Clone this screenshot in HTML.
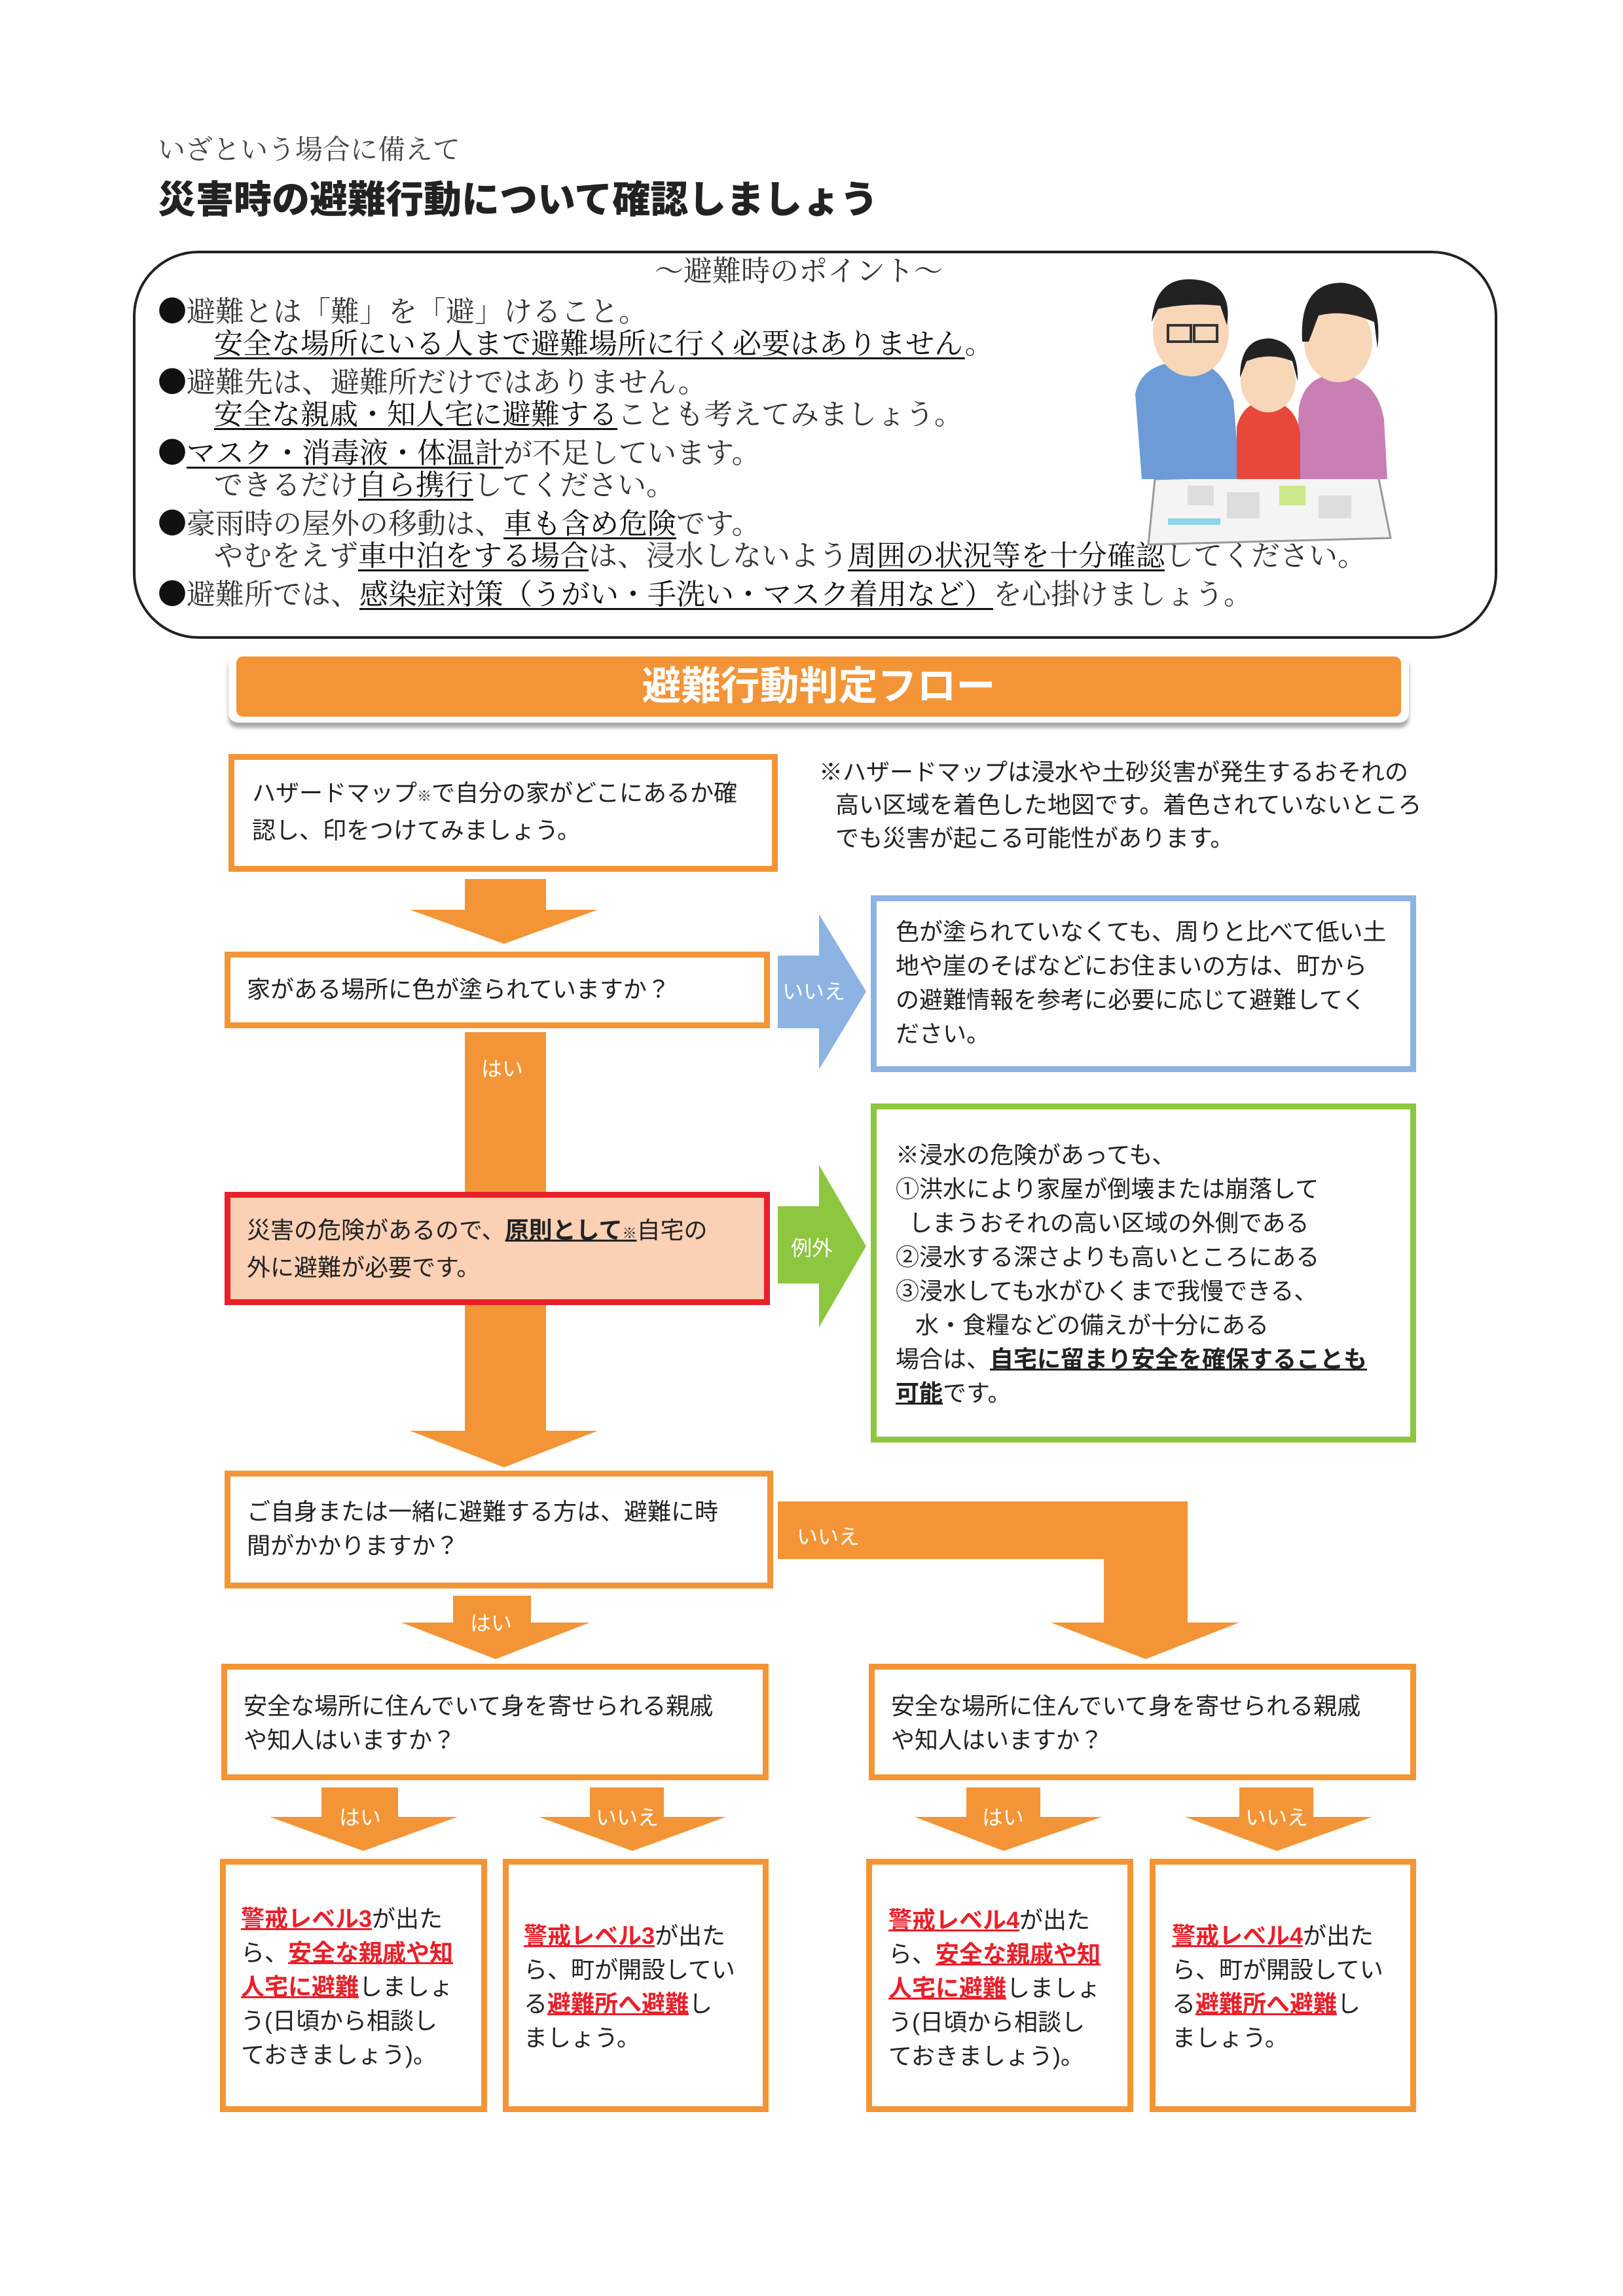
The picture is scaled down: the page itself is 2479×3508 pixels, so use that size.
<!DOCTYPE html>
<html><head><meta charset="utf-8">
<style>
*{margin:0;padding:0;box-sizing:border-box}
body{width:2479px;height:3508px;background:#fff;position:relative;overflow:hidden;font-family:"Liberation Sans","Noto Sans CJK JP",sans-serif;color:#222}
.a{position:absolute}
.serif{font-family:"Liberation Serif","Noto Serif CJK SC",serif}
.box{position:absolute;border:9px solid #f39536;background:#fff}
.t{position:absolute;font-size:36px;line-height:52px;white-space:nowrap;color:#222}
.r{color:#e8202a;font-weight:bold;text-decoration:underline}
.u{text-decoration:underline;font-weight:bold}
.lbl{position:absolute;color:#fff;font-size:32px;white-space:nowrap}
.il{position:absolute;font-size:44px;line-height:54px;white-space:nowrap;color:#333}
.il u{color:#111;text-decoration-thickness:3px;text-underline-offset:6px}
.b{font-family:"Noto Sans CJK JP",sans-serif;color:#111}
</style></head><body>

<div class="a serif" style="left:241px;top:196px;font-size:42px;color:#444">いざという場合に備えて</div>
<div class="a" style="left:241px;top:258px;font-size:58px;font-weight:900;color:#222">災害時の避難行動について確認しましょう</div>

<div class="a" style="left:203px;top:383px;width:2084px;height:593px;border:4px solid #222;border-radius:100px"></div>
<div class="il serif" style="left:1000px;top:388px">〜避難時のポイント〜</div>
<div class="il serif" style="left:241px;top:445px"><span class="b">●</span>避難とは「難」を「避」けること。</div>
<div class="il serif" style="left:327px;top:499px"><u>安全な場所にいる人まで避難場所に行く必要はありません</u>。</div>
<div class="il serif" style="left:241px;top:553px"><span class="b">●</span>避難先は、避難所だけではありません。</div>
<div class="il serif" style="left:327px;top:607px"><u>安全な親戚・知人宅に避難する</u>ことも考えてみましょう。</div>
<div class="il serif" style="left:241px;top:661px"><span class="b">●</span><u>マスク・消毒液・体温計</u>が不足しています。</div>
<div class="il serif" style="left:327px;top:715px">できるだけ<u>自ら携行</u>してください。</div>
<div class="il serif" style="left:241px;top:769px"><span class="b">●</span>豪雨時の屋外の移動は、<u>車も含め危険</u>です。</div>
<div class="il serif" style="left:327px;top:823px">やむをえず<u>車中泊をする場合</u>は、浸水しないよう<u>周囲の状況等を十分確認</u>してください。</div>
<div class="il serif" style="left:241px;top:877px"><span class="b">●</span>避難所では、<u>感染症対策（うがい・手洗い・マスク着用など）</u>を心掛けましょう。</div>

<svg class="a" style="left:1724px;top:412px" width="420" height="425" viewBox="0 0 420 425">
<polygon points="40,320 380,310 400,410 30,420" fill="#f4f4f4" stroke="#999" stroke-width="3"/>
<rect x="90" y="330" width="40" height="30" fill="#ddd"/><rect x="150" y="340" width="50" height="40" fill="#ddd"/><rect x="230" y="330" width="40" height="30" fill="#cde88a"/><rect x="290" y="345" width="50" height="35" fill="#ddd"/><rect x="60" y="380" width="80" height="10" fill="#8fd4e8"/>
<path d="M10,190 Q20,140 90,140 Q140,140 160,200 L170,320 L20,320 Z" fill="#6d9bd8"/>
<ellipse cx="95" cy="95" rx="58" ry="68" fill="#f8d6b8"/>
<path d="M35,80 Q40,10 100,15 Q160,20 150,85 L140,55 Q90,50 45,60 Z" fill="#222"/>
<rect x="60" y="85" width="35" height="25" fill="none" stroke="#333" stroke-width="4"/><rect x="100" y="85" width="35" height="25" fill="none" stroke="#333" stroke-width="4"/>
<path d="M260,210 Q270,160 320,160 Q380,165 390,230 L395,320 L255,320 Z" fill="#c97fb4"/>
<ellipse cx="320" cy="110" rx="52" ry="62" fill="#f8d6b8"/>
<path d="M265,110 Q260,20 325,20 Q390,25 380,120 L375,80 Q330,60 290,70 L275,110 Z" fill="#222"/>
<path d="M165,240 Q175,200 215,200 Q255,205 262,250 L262,320 L165,320 Z" fill="#e8483a"/>
<ellipse cx="213" cy="170" rx="42" ry="48" fill="#f8d6b8"/>
<path d="M170,165 Q170,105 215,105 Q260,110 258,170 L250,140 Q215,125 180,140 Z" fill="#222"/>
</svg>

<div class="a" style="left:349px;top:998px;width:1803px;height:106px;background:#fff;border-radius:14px;box-shadow:0 8px 6px #aaa"></div>
<div class="a" style="left:361px;top:1003px;width:1779px;height:92px;background:#f39536;border-radius:10px;color:#fff;font-size:60px;font-weight:bold;text-align:center;line-height:92px">避難行動判定フロー</div>

<svg class="a" style="left:0;top:0" width="2479" height="3508">
<g fill="#f39536">
<rect x="710" y="1343" width="124" height="48"/><polygon points="626,1390 913,1390 770,1442"/>
<rect x="710" y="1577" width="124" height="620"/><polygon points="626,2186 913,2186 770,2242"/>
<rect x="1188" y="2294" width="626" height="88"/><rect x="1686" y="2294" width="128" height="190"/><polygon points="1605,2479 1893,2479 1750,2535"/>
<rect x="692" y="2438" width="119" height="42"/><polygon points="613,2479 901,2479 757,2535"/>
<rect x="491" y="2731" width="117" height="46"/><polygon points="412,2776 699,2776 555,2828"/>
<rect x="901" y="2731" width="113" height="46"/><polygon points="823,2776 1109,2776 966,2828"/>
<rect x="1476" y="2731" width="113" height="46"/><polygon points="1397,2776 1683,2776 1533,2828"/>
<rect x="1893" y="2731" width="113" height="46"/><polygon points="1810,2776 2096,2776 1950,2828"/>
</g>
<rect x="1188" y="1460" width="64" height="111" fill="#8db3e2"/><polygon points="1251,1397 1323,1515 1251,1634" fill="#8db3e2"/>
<rect x="1188" y="1843" width="64" height="118" fill="#8dc63f"/><polygon points="1251,1780 1323,1904 1251,2028" fill="#8dc63f"/>
</svg>

<div class="lbl" style="left:1195px;top:1490px">いいえ</div>
<div class="lbl" style="left:735px;top:1608px">はい</div>
<div class="lbl" style="left:1208px;top:1882px">例外</div>
<div class="lbl" style="left:1217px;top:2323px">いいえ</div>
<div class="lbl" style="left:718px;top:2455px">はい</div>
<div class="lbl" style="left:518px;top:2752px">はい</div>
<div class="lbl" style="left:910px;top:2752px">いいえ</div>
<div class="lbl" style="left:1500px;top:2752px">はい</div>
<div class="lbl" style="left:1902px;top:2752px">いいえ</div>

<div class="box" style="left:349px;top:1152px;width:839px;height:180px"></div>
<div class="t" style="left:385px;top:1186px">ハザードマップ<span style="font-size:22px">※</span>で自分の家がどこにあるか確<br>認し、印をつけてみましょう。</div>

<div class="t" style="left:1251px;top:1154px">※ハザードマップは浸水や土砂災害が発生するおそれの</div>
<div class="t" style="left:1276px;top:1204px">高い区域を着色した地図です。着色されていないところ</div>
<div class="t" style="left:1276px;top:1255px">でも災害が起こる可能性があります。</div>

<div class="box" style="left:343px;top:1454px;width:833px;height:117px"></div>
<div class="t" style="left:377px;top:1486px">家がある場所に色が塗られていますか？</div>

<div class="box" style="left:1330px;top:1368px;width:833px;height:270px;border-color:#8db3e2"></div>
<div class="t" style="left:1368px;top:1398px">色が塗られていなくても、周りと比べて低い土<br>地や崖のそばなどにお住まいの方は、町から<br>の避難情報を参考に必要に応じて避難してく<br>ださい。</div>

<div class="box" style="left:343px;top:1821px;width:833px;height:173px;border-color:#e8202a;background:#fbd0b5"></div>
<div class="t" style="left:377px;top:1854px">災害の危険があるので、<span class="u">原則として<span style="font-size:22px">※</span></span>自宅の<br>外に避難が必要です。</div>

<div class="box" style="left:1330px;top:1686px;width:833px;height:518px;border-color:#8dc63f"></div>
<div class="t" style="left:1368px;top:1739px">※浸水の危険があっても、<br>①洪水により家屋が倒壊または崩落して<br>&nbsp;&nbsp;しまうおそれの高い区域の外側である<br>②浸水する深さよりも高いところにある<br>③浸水しても水がひくまで我慢できる、<br>&nbsp;&nbsp;&nbsp;水・食糧などの備えが十分にある<br>場合は、<span class="u">自宅に留まり安全を確保することも</span><br><span class="u">可能</span>です。</div>

<div class="box" style="left:343px;top:2247px;width:838px;height:180px"></div>
<div class="t" style="left:377px;top:2284px">ご自身または一緒に避難する方は、避難に時<br>間がかかりますか？</div>

<div class="box" style="left:338px;top:2542px;width:836px;height:178px"></div>
<div class="t" style="left:372px;top:2581px">安全な場所に住んでいて身を寄せられる親戚<br>や知人はいますか？</div>
<div class="box" style="left:1327px;top:2542px;width:836px;height:178px"></div>
<div class="t" style="left:1361px;top:2581px">安全な場所に住んでいて身を寄せられる親戚<br>や知人はいますか？</div>

<div class="box" style="left:336px;top:2840px;width:408px;height:387px"></div>
<div class="t" style="left:368px;top:2906px"><span class="r">警戒レベル3</span>が出た<br>ら、<span class="r">安全な親戚や知</span><br><span class="r">人宅に避難</span>しましょ<br>う(日頃から相談し<br>ておきましょう)。</div>
<div class="box" style="left:768px;top:2840px;width:406px;height:387px"></div>
<div class="t" style="left:800px;top:2932px"><span class="r">警戒レベル3</span>が出た<br>ら、町が開設してい<br>る<span class="r">避難所へ避難</span>し<br>ましょう。</div>
<div class="box" style="left:1323px;top:2840px;width:408px;height:387px"></div>
<div class="t" style="left:1357px;top:2908px"><span class="r">警戒レベル4</span>が出た<br>ら、<span class="r">安全な親戚や知</span><br><span class="r">人宅に避難</span>しましょ<br>う(日頃から相談し<br>ておきましょう)。</div>
<div class="box" style="left:1756px;top:2840px;width:407px;height:387px"></div>
<div class="t" style="left:1790px;top:2932px"><span class="r">警戒レベル4</span>が出た<br>ら、町が開設してい<br>る<span class="r">避難所へ避難</span>し<br>ましょう。</div>

</body></html>
